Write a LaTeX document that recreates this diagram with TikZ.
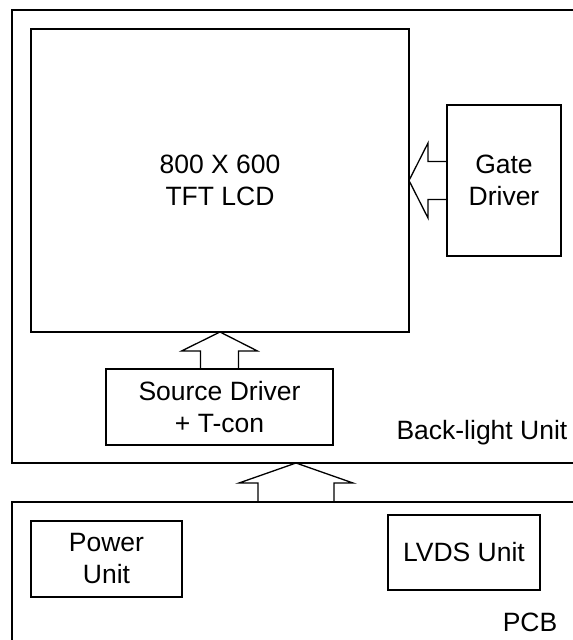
\documentclass[tikz,border=0pt]{standalone}
\usepackage{fontspec}
\setmainfont{Liberation Sans}
\usetikzlibrary{calc}

\begin{document}
\begin{tikzpicture}[x=1pt, y=-1pt, line width=1.3pt, font=\fontsize{26.5}{32}\selectfont,
  unit/.style={draw, inner sep=0pt, outer sep=0pt, align=center},
  hollow/.style={draw, line join=miter}]
\useasboundingbox (0,0) rectangle (573,640);
% back-light unit and pcb frames
\draw (573,10) -| (12,463) -- (573,463);
\draw (573,502) -| (12,640);
\node (bl) at (568,433) [anchor=east, inner sep=0pt] {Back-light Unit};
\node (pcb) at (530,622) [inner sep=0pt] {PCB};
% blocks
\node (lcd) at (220,180.5) [unit, minimum width=378pt, minimum height=303pt] {800 X 600\\TFT LCD};
\node (gate) at (504,180.5) [unit, minimum width=114pt, minimum height=151pt] {Gate\\Driver};
\node (src) at (219.5,407) [unit, minimum width=227pt, minimum height=76pt] {Source Driver\\+ T-con};
\node (power) at (106.5,559) [unit, minimum width=151pt, minimum height=76pt] {Power\\Unit};
\node (lvds) at (464,552.5) [unit, minimum width=152pt, minimum height=75pt] {LVDS Unit};
\coordinate (pcbtop) at (296,502);
\coordinate (blubot) at (296,463);
% block arrows
\draw[hollow] ($(src.north)+(-19,0)$) |- ($(src.north)+(-38,-18)$) -- (lcd.south)
  -- ($(src.north)+(38,-18)$) -| ($(src.north)+(19,0)$);
\draw[hollow] ($(gate.west)+(0,-19)$) -| ($(gate.west)+(-19,-37.5)$) -- (lcd.east)
  -- ($(gate.west)+(-19,37.5)$) |- ($(gate.west)+(0,19)$);
\draw[hollow] ($(pcbtop)+(-38,0)$) |- ($(pcbtop)+(-57,-19)$) -- (blubot)
  -- ($(pcbtop)+(57,-19)$) -| ($(pcbtop)+(38,0)$);
\end{tikzpicture}
\end{document}
